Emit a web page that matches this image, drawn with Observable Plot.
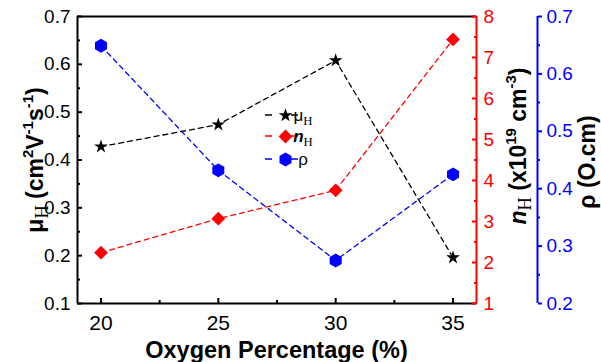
<!DOCTYPE html>
<html><head><meta charset="utf-8">
<script src="https://cdn.jsdelivr.net/npm/d3@7"></script>
<script src="https://cdn.jsdelivr.net/npm/@observablehq/plot@0.6"></script>
<style>body{margin:0;background:#fff} svg{display:block;overflow:visible}</style>
</head><body><div id="chart"></div>
<script>
const oxygen = [20, 25, 30, 35];
const mobility = [0.428, 0.474, 0.608, 0.196];
const carrier = [2.24, 3.07, 3.76, 7.44];
const resistivity = [0.649, 0.432, 0.275, 0.425];
const xTicks = [20, 25, 30, 35];
const xMinor = [22.5, 27.5, 32.5];
const muTicks = [0.1, 0.2, 0.3, 0.4, 0.5, 0.6, 0.7];
const muMinor = [0.15, 0.25, 0.35, 0.45, 0.55, 0.65];
const nTicks = [1, 2, 3, 4, 5, 6, 7, 8];
const nMinor = [1.5, 2.5, 3.5, 4.5, 5.5, 6.5, 7.5];
const rhoTicks = [0.2, 0.3, 0.4, 0.5, 0.6, 0.7];
const rhoMinor = [0.25, 0.35, 0.45, 0.55, 0.65];
const xDomain = [19, 36], muDomain = [0.1, 0.7], nDomain = [1, 8], rhoDomain = [0.2, 0.7];

const mapTo = dom => v => muDomain[0] + (v - dom[0]) / (dom[1] - dom[0]) * (muDomain[1] - muDomain[0]);
const mapFrom = dom => v => dom[0] + (v - muDomain[0]) / (muDomain[1] - muDomain[0]) * (dom[1] - dom[0]);
const nToMu = mapTo(nDomain), rhoToMu = mapTo(rhoDomain);
const muToN = mapFrom(nDomain), muToRho = mapFrom(rhoDomain);

const rows = oxygen.map((x, i) => ({x, mu: mobility[i], n: carrier[i], rho: resistivity[i]}));

const RED = "#ff0000", BLUE = "#0000ff";
const BLUE_DX = 61;
const dash = {strokeDasharray: "5,4", strokeWidth: 1.3};

const svg = Plot.plot({
  width: 601, height: 362,
  marginLeft: 77, marginRight: 125, marginTop: 16, marginBottom: 59,
  style: {fontFamily: "'Liberation Sans', Arial, sans-serif", background: "white"},
  x: {domain: xDomain, label: null},
  y: {domain: muDomain, label: null},
  marks: [
    Plot.line(rows, {x: "x", y: "mu", stroke: "black", ...dash}),
    Plot.line(rows, {x: "x", y: d => nToMu(d.n), stroke: RED, ...dash}),
    Plot.line(rows, {x: "x", y: d => rhoToMu(d.rho), stroke: BLUE, ...dash}),
    Plot.dot(rows, {x: "x", y: "mu", symbol: "star", fill: "black", stroke: "none", r: 4.3}),
    Plot.dot(rows, {x: "x", y: d => nToMu(d.n), symbol: "diamond2", fill: RED, stroke: "none", r: 6.2}),
    Plot.dot(rows, {x: "x", y: d => rhoToMu(d.rho), symbol: "hexagon", fill: BLUE, stroke: "none", r: 6}),
    // frame
    Plot.ruleY([muDomain[1]], {stroke: "black", strokeWidth: 2}),
    Plot.ruleY([muDomain[0]], {stroke: "black", strokeWidth: 2}),
    Plot.ruleX([xDomain[0]], {stroke: "black", strokeWidth: 2}),
    Plot.ruleX([xDomain[1]], {stroke: RED, strokeWidth: 2}),
    Plot.ruleX([xDomain[1]], {stroke: BLUE, strokeWidth: 2, dx: BLUE_DX}),
    // x axis
    Plot.axisX(xTicks, {tickSize: -5, tickPadding: 17, fontSize: 21, strokeWidth: 2, color: "black", tickFormat: d => d}),
    Plot.axisX(xMinor, {tickSize: -3, strokeWidth: 2, color: "black", tickFormat: () => ""}),
    // left axis
    Plot.axisY(muTicks, {anchor: "left", tickSize: -5, tickPadding: 12, fontSize: 19, strokeWidth: 2, color: "black", tickFormat: d3.format(".1f")}),
    Plot.axisY(muMinor, {anchor: "left", tickSize: -3, strokeWidth: 2, color: "black", tickFormat: () => ""}),
    // red right axis
    Plot.axisY(nTicks.map(nToMu), {anchor: "right", tickSize: -5, tickPadding: 12, fontSize: 19, strokeWidth: 2, color: RED, tickFormat: v => String(Math.round(muToN(v)))}),
    Plot.axisY(nMinor.map(nToMu), {anchor: "right", tickSize: -3, strokeWidth: 2, color: RED, tickFormat: () => ""}),
    // blue right axis
    Plot.axisY(rhoTicks.map(rhoToMu), {anchor: "right", dx: BLUE_DX, tickSize: 4, tickPadding: 5, fontSize: 19, strokeWidth: 2, color: BLUE, tickFormat: v => (Math.round(muToRho(v) * 10) / 10).toFixed(1)}),
    Plot.axisY(rhoMinor.map(rhoToMu), {anchor: "right", dx: BLUE_DX, tickSize: 2, strokeWidth: 2, color: BLUE, tickFormat: () => ""}),
    // legend symbols
    Plot.dot([0], {frameAnchor: "top-left", dx: 285 - 77, dy: 115 - 16, symbol: "star", fill: "black", stroke: "none", r: 4.3}),
    Plot.dot([0], {frameAnchor: "top-left", dx: 285 - 77, dy: 136 - 16, symbol: "diamond2", fill: RED, stroke: "none", r: 6.2}),
    Plot.dot([0], {frameAnchor: "top-left", dx: 285 - 77, dy: 159 - 16, symbol: "hexagon", fill: BLUE, stroke: "none", r: 6})
  ]
});

const s = d3.select(svg);
const FONT = "'Liberation Sans', Arial, sans-serif";
const SERIF = "'Liberation Serif', 'Times New Roman', serif";

function rich(text, parts, size) {
  let shift = 0;
  for (const p of parts) {
    const small = p.sup || p.sub;
    const fs = small ? size * (p.scale || 0.65) : size;
    const target = p.sup ? -size * 0.42 : p.sub ? size * 0.22 : 0;
    const ts = text.append("tspan").text(p.t).attr("font-size", fs).attr("dy", target - shift);
    shift = target;
    if (p.italic) ts.attr("font-style", "italic");
    if (p.family) ts.attr("font-family", p.family);
    if (p.weight) ts.attr("font-weight", p.weight);
  }
}

// legend lines and labels
const legend = [
  {y: 115, color: "black", label: [{t: "μ"}, {t: "H", sub: true, family: SERIF, scale: 0.75}]},
  {y: 136, color: RED, label: [{t: "n", italic: true, weight: "bold"}, {t: "H", sub: true, family: SERIF, scale: 0.75}]},
  {y: 159, color: BLUE, label: [{t: "ρ"}]}
];
const lg = s.append("g");
legend.forEach(item => {
  lg.append("line").attr("x1", 265).attr("x2", 298).attr("y1", item.y).attr("y2", item.y)
    .attr("stroke", item.color).attr("stroke-width", 1.3).attr("stroke-dasharray", "7,19");
  const t = lg.append("text").attr("x", 303).attr("y", item.y + 6).attr("font-family", FONT).attr("fill", "black");
  rich(t, item.label, 17);
});
// move legend lines behind symbols
svg.insertBefore(lg.node(), svg.querySelector("g[aria-label='dot']"));

// axis titles
s.append("text").attr("x", 276.5).attr("y", 358).attr("text-anchor", "middle")
  .attr("font-family", FONT).attr("font-weight", "bold").attr("font-size", 23.5).attr("fill", "black")
  .text("Oxygen Percentage (%)");

const ly = s.append("text").attr("transform", "translate(43,160) rotate(-90)").attr("text-anchor", "middle")
  .attr("font-family", FONT).attr("font-weight", "bold").attr("fill", "black");
rich(ly, [{t: "μ"}, {t: "H", sub: true, family: SERIF, weight: "normal", scale: 0.8}, {t: " (cm"}, {t: "2", sup: true},
  {t: "V"}, {t: "-1", sup: true}, {t: "s"}, {t: "-1", sup: true}, {t: ")"}], 23);

const ry = s.append("text").attr("transform", "translate(526,146) rotate(-90)").attr("text-anchor", "middle")
  .attr("font-family", FONT).attr("font-weight", "bold").attr("fill", "black");
rich(ry, [{t: "n", italic: true}, {t: "H", sub: true, family: SERIF, weight: "normal", scale: 0.8}, {t: " (x10"}, {t: "19", sup: true},
  {t: " cm"}, {t: "-3", sup: true}, {t: ")"}], 23);

s.append("text").attr("transform", "translate(595,162) rotate(-90)").attr("text-anchor", "middle")
  .attr("font-family", FONT).attr("font-weight", "bold").attr("font-size", 23).attr("fill", "black")
  .text("ρ (O.cm)");

document.getElementById("chart").appendChild(svg);
</script>
</body></html>
